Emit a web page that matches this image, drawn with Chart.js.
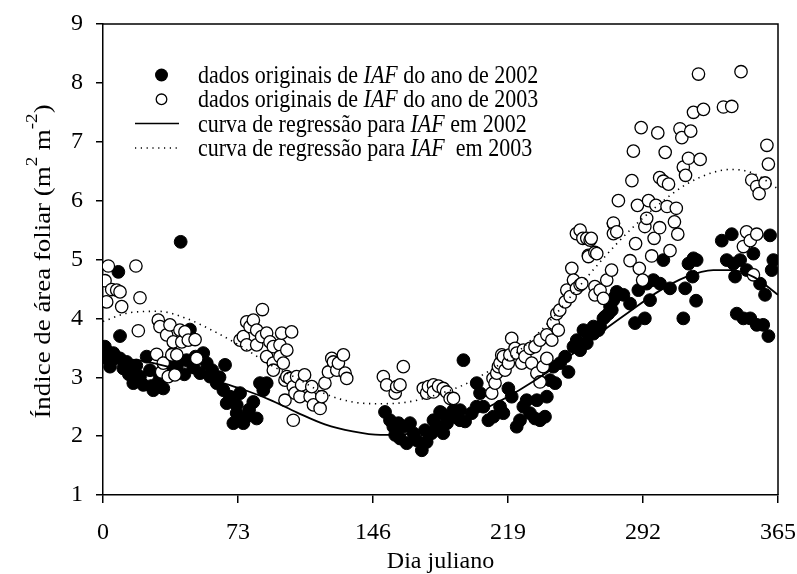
<!DOCTYPE html>
<html>
<head>
<meta charset="utf-8">
<script src="https://cdn.jsdelivr.net/npm/chart.js@4.4.1/dist/chart.umd.min.js"></script>
<style>
  html, body { margin: 0; padding: 0; background: #fff; }
  canvas { display: block; }
</style>
</head>
<body>
<canvas id="iafChart" width="797" height="574"></canvas>
<script>
// dados originais de IAF, 2002 (dia juliano, valor)
const days2002 = [
    1, 2, 3, 3.8, 4.5, 5.6, 7, 8.3, 9.2, 9.2, 11, 12.8, 14, 16.4, 16.4, 18, 19, 20, 21.8, 23.6,
    25.4, 26, 27.2, 29.9, 30.5, 32.6, 34.4, 36, 38, 40, 42, 44, 45.2, 47, 48.8, 50, 52.5, 54.2, 56.1, 57.9,
    59, 61.5, 63, 65.1, 66, 66.9, 68.7, 70.5, 72.3, 72.3, 74.1, 75.9, 77.7, 79, 81.3, 83.1, 84.9, 86.7, 88.5,
    152.5, 155.2, 157, 158, 159.8, 160.6, 162.4, 164.2, 166, 167.8, 169.6, 172.4, 174.1, 175, 177.7, 178.7,
    180.4, 182.3, 183.2, 184, 185.8, 186, 189.5, 189.5, 193, 193.1, 194.9, 195.8, 199.4, 202, 202.1, 203.9,
    205.7, 208.4, 211.1, 214.7, 216.5, 219.2, 221, 223.7, 225.5, 227.3, 229.1, 230.9, 233.6, 234.6, 236.3,
    239, 240, 241.7, 243.5, 244.5, 247.2, 249.9, 251.7, 254.4, 256.2, 258, 259.8, 261.6, 262.5, 265.2, 265.2,
    267.9, 268.8, 270.6, 271.5, 273.3, 274.2, 275.1, 276, 276.9, 277.8, 281.4, 285, 287.7, 289.5, 293, 294,
    295.8, 297.6, 301.2, 303, 306.6, 313.8, 314.8, 316.6, 318.8, 319.3, 320.7, 321, 334.6, 337.3, 340, 340.9,
    341.8, 342.7, 344.5, 346.3, 348.1, 350, 351.7, 353.5, 355.3, 357, 358, 359.8, 360.7, 361.6, 362.5
];
const iaf2002 = [
    3.52, 3.32, 3.42, 3.18, 3.28, 3.41, 3.35, 4.79, 3.70, 3.32, 3.15, 3.26, 3.05, 3.12, 2.90, 3.20, 2.95, 3.01, 2.87, 3.35,
    3.12, 2.85, 2.78, 2.92, 3.05, 2.81, 3.24, 3.10, 3.41, 3.20, 5.30, 3.05, 3.29, 3.81, 3.18, 3.35, 3.07, 3.41, 3.24, 3.01,
    3.12, 2.90, 3.00, 2.78, 3.21, 2.56, 2.67, 2.22, 2.53, 2.39, 2.73, 2.22, 2.33, 2.45, 2.58, 2.30, 2.90, 2.78, 2.90,
    2.41, 2.27, 2.16, 2.02, 2.22, 1.96, 2.16, 1.88, 2.22, 2.05, 1.93, 1.76, 2.10, 1.90, 2.05, 2.27,
    2.19, 2.41, 2.39, 2.05, 2.33, 2.22, 2.44, 2.33, 2.27, 2.44, 3.29, 2.25, 2.39, 2.50, 2.90, 2.73,
    2.50, 2.27, 2.33, 2.50, 2.39, 2.81, 2.67, 2.16, 2.27, 2.50, 2.61, 2.39, 2.30, 2.61, 2.27,
    2.33, 2.67, 2.95, 3.18, 2.90, 3.24, 3.35, 3.09, 3.52, 3.63, 3.46, 3.80, 3.58, 3.72, 3.86, 3.74,
    3.80, 3.86, 4.00, 4.03, 4.08, 4.20, 4.14, 4.31, 4.37, 4.45, 4.40, 4.25, 3.92, 4.48, 4.00, 4.59,
    4.31, 4.65, 4.59, 4.99, 4.51, 4.00, 4.51, 4.93, 4.71, 5.02, 4.30, 4.99, 5.32, 4.99, 5.43, 4.93,
    4.71, 4.08, 4.99, 4.00, 4.82, 4.00, 5.10, 3.89, 4.59, 3.89, 4.40, 3.70, 5.41, 4.82, 4.99
];

// dados originais de IAF, 2003
const days2003 = [
    1.1, 2, 2.9, 4.7, 7.4, 9.2, 10.1, 17.8, 19.1, 20, 29, 29.9, 30.8, 31.7, 32.6, 34.4, 35.3, 36.2, 37.2, 38,
    38.9, 39.9, 41.6, 42.6, 44.3, 46.1, 49.8, 50.7, 74.1, 75.9, 77.7, 77.7, 79.5, 81.3, 83.1, 83.1, 85.8, 86.2,
    88.5, 88.5, 90.3, 92.1, 92.1, 92.1, 95.7, 95.7, 96.6, 97.5, 98.4, 98.4, 99.4, 99.4, 101, 102, 102.9, 102.9,
    103.8, 104.7, 106.5, 107.4, 109, 112, 112.9, 113.8, 117.4, 118.3, 120, 121.9, 123.7, 124.6, 126.4, 127.3,
    130, 130.9, 131.8, 151.6, 153.4, 158, 158.8, 160.6, 162.4, 173.2, 175, 176, 178.7, 178.7, 181.4, 184,
    185.8, 187.7, 189.5, 210.2, 210.9, 212, 212.9, 213.8, 214.7, 215.6, 216.5, 217.4, 219.2, 220, 221, 222.8,
    223.7, 226.4, 227.3, 228.2, 231, 231.8, 233.6, 234.6, 236.3, 236.3, 238, 240, 240, 242.7, 243.5, 245.4,
    246.2, 247, 249.9, 250.8, 252.6, 253.5, 254.4, 256, 256, 258, 258, 258.9, 259.5, 261.6, 262.5, 262.5,
    263.4, 264, 266, 266, 266, 267, 268.8, 270.6, 272.4, 275, 276, 276, 276, 277.8, 278.7, 285, 286, 286.8,
    288, 289, 290, 291, 291.8, 293, 294, 295, 296.7, 298, 299, 300, 301, 301, 303, 304, 305, 305.8, 306.6,
    309, 310, 310.8, 312, 313, 313.8, 315, 316.6, 317.8, 319.3, 322, 322.9, 324.7, 335.5, 340, 345, 346.3,
    348, 350, 350.8, 351.7, 353.5, 353.5, 354.8, 358, 359, 359.8
];
const iaf2003 = [
    4.64, 4.28, 4.89, 4.49, 4.48, 4.45, 4.20, 4.89, 3.79, 4.35, 3.39, 3.97, 3.86, 3.09, 3.24, 3.72, 3.01, 3.89, 3.38, 3.60,
    3.04, 3.38, 3.80, 3.60, 3.77, 3.63, 3.64, 3.32, 3.63, 3.69, 3.94, 3.55, 3.86, 3.97, 3.80, 3.55, 3.69, 4.15,
    3.75, 3.35, 3.60, 3.52, 3.24, 3.12, 3.55, 3.35, 3.75, 3.24, 2.95, 2.61, 3.46, 3.01, 2.98, 3.77, 2.84, 2.27,
    2.73, 3.01, 2.67, 2.87, 3.04, 2.67, 2.84, 2.53, 2.47, 2.67, 2.90, 3.09, 3.32, 3.26, 3.12, 3.24,
    3.38, 3.07, 2.98, 3.01, 2.87, 2.73, 2.84, 2.87, 3.18, 2.81, 2.73, 2.84, 2.87, 2.75, 2.85, 2.81,
    2.75, 2.64, 2.64, 2.73, 2.98, 2.90, 3.07, 3.18, 3.24, 3.38, 3.35, 3.12, 3.24, 3.38, 3.66, 3.49,
    3.41, 3.24, 3.46, 3.35, 3.49, 3.24, 3.52, 3.07, 3.63, 2.92, 3.18, 3.72, 3.32, 3.63, 3.92, 4.08,
    3.80, 4.14, 4.28, 4.48, 4.37, 4.85, 4.65, 4.51, 5.44, 4.57, 5.50, 4.59, 5.36, 5.36, 5.07, 5.05,
    5.33, 5.36, 5.12, 4.54, 4.40, 5.10, 4.48, 4.34, 4.65, 4.82, 5.61, 5.62, 5.44, 5.47, 6.00, 4.98, 6.34, 6.84,
    5.27, 5.92, 4.85, 7.24, 4.65, 5.56, 5.70, 6.00, 5.06, 5.36, 5.92, 7.15, 6.39, 5.54, 6.33, 6.82, 5.90, 6.28, 5.15,
    5.64, 5.87, 5.43, 7.22, 7.07, 6.57, 6.43, 6.72, 7.18, 7.50, 8.15, 6.70, 7.55, 7.59, 7.60, 8.19, 5.22,
    5.47, 5.32, 6.35, 4.74, 6.24, 5.43, 6.12, 6.30, 6.94, 6.62
];

// curvas de regressão
const curveDays = [0, 15, 30, 45, 60, 75, 90, 105, 120, 135, 150, 165, 180, 195, 210, 225, 240, 255, 270, 285, 300, 315, 330, 340, 352, 365];
const curve2002 = [3.30, 3.30, 3.22, 3.10, 2.95, 2.80, 2.62, 2.40, 2.20, 2.08, 2.02, 2.04, 2.14, 2.30, 2.52, 2.78, 3.08, 3.42, 3.78, 4.12, 4.45, 4.70, 4.82, 4.82, 4.70, 4.40];
const curve2003 = [3.95, 4.10, 4.12, 4.00, 3.78, 3.52, 3.22, 2.98, 2.72, 2.58, 2.55, 2.58, 2.70, 2.87, 3.13, 3.45, 3.90, 4.45, 5.00, 5.50, 5.92, 6.27, 6.48, 6.53, 6.46, 6.20];

const xTicks = [0, 73, 146, 219, 292, 365];

const FONT = 'Liberation Serif, Times New Roman, serif';
const STRETCH = 1.12; // o texto do original é um pouco alongado na vertical

function toPoints(xs, ys) {
    return xs.map((x, i) => ({ x: x, y: ys[i] }));
}

// legenda dentro da área do gráfico
const legendRows = [
    { kind: 'filled', parts: ['dados originais de ', 'IAF', ' do ano de 2002'] },
    { kind: 'open', parts: ['dados originais de ', 'IAF', ' do ano de 2003'] },
    { kind: 'solid', parts: ['curva de regressão para ', 'IAF', ' em 2002'] },
    { kind: 'dotted', parts: ['curva de regressão para ', 'IAF', '  em 2003'] }
];

const framePlugin = {
    id: 'frameAndLegend',
    afterDraw(chart) {
        const ctx = chart.ctx;
        const a = chart.chartArea;
        ctx.save();

        // moldura superior e direita
        ctx.strokeStyle = '#000';
        ctx.lineWidth = 1.5;
        ctx.beginPath();
        ctx.moveTo(a.left, a.top);
        ctx.lineTo(a.right, a.top);
        ctx.lineTo(a.right, a.bottom);
        ctx.stroke();

        // legenda
        const x0 = a.left + 32;
        const mx = a.left + 58.5;
        const tx = a.left + 95;
        let y = a.top + 51;
        ctx.textBaseline = 'alphabetic';
        ctx.fillStyle = '#000';
        legendRows.forEach(row => {
            if (row.kind === 'filled') {
                ctx.beginPath();
                ctx.arc(mx, y, 6.5, 0, Math.PI * 2);
                ctx.fill();
            } else if (row.kind === 'open') {
                ctx.beginPath();
                ctx.arc(mx, y, 5.3, 0, Math.PI * 2);
                ctx.lineWidth = 1.3;
                ctx.stroke();
            } else {
                ctx.beginPath();
                ctx.lineWidth = 1.5;
                ctx.setLineDash(row.kind === 'dotted' ? [1.2, 4.6] : []);
                ctx.moveTo(x0, y);
                ctx.lineTo(x0 + 44, y);
                ctx.stroke();
                ctx.setLineDash([]);
            }
            let cx = tx;
            row.parts.forEach((p, i) => {
                ctx.font = (i === 1 ? 'italic ' : '') + '22px ' + FONT;
                ctx.save();
                ctx.translate(cx, y + 8);
                ctx.scale(1, STRETCH);
                ctx.fillText(p, 0, 0);
                ctx.restore();
                cx += ctx.measureText(p).width;
            });
            y += 24.3;
        });

        // título do eixo y com expoentes
        const parts = [
            { t: 'Índice de área foliar (m', sup: false },
            { t: '2', sup: true },
            { t: ' m', sup: false },
            { t: '-2', sup: true },
            { t: ')', sup: false }
        ];
        let total = 0;
        parts.forEach(p => {
            ctx.font = (p.sup ? '17px ' : '24px ') + FONT;
            p.w = ctx.measureText(p.t).width;
            total += p.w;
        });
        ctx.translate(50, (a.top + a.bottom) / 2 + 2);
        ctx.rotate(-Math.PI / 2);
        ctx.scale(STRETCH, 1);
        ctx.textBaseline = 'alphabetic';
        let px = -total / 2;
        parts.forEach(p => {
            ctx.font = (p.sup ? '17px ' : '24px ') + FONT;
            ctx.fillText(p.t, px, p.sup ? -13 : 0);
            px += p.w;
        });
        ctx.restore();
    }
};

const ctx = document.getElementById('iafChart');

new Chart(ctx, {
    type: 'scatter',
    data: {
        datasets: [
            {
                label: 'curva de regressão para IAF em 2003',
                data: toPoints(curveDays, curve2003),
                showLine: true,
                borderColor: '#000',
                borderWidth: 1.6,
                borderDash: [1.3, 4.6],
                pointRadius: 0,
                tension: 0.4,
                cubicInterpolationMode: 'monotone',
                order: 0
            },
            {
                label: 'curva de regressão para IAF em 2002',
                data: toPoints(curveDays, curve2002),
                showLine: true,
                borderColor: '#000',
                borderWidth: 1.8,
                pointRadius: 0,
                tension: 0.4,
                cubicInterpolationMode: 'monotone',
                order: 1
            },
            {
                label: 'dados originais de IAF do ano de 2003',
                data: toPoints(days2003, iaf2003),
                backgroundColor: '#fff',
                borderColor: '#000',
                borderWidth: 1.3,
                pointRadius: 6.2,
                order: 2
            },
            {
                label: 'dados originais de IAF do ano de 2002',
                data: toPoints(days2002, iaf2002),
                backgroundColor: '#000',
                borderColor: '#000',
                borderWidth: 1,
                pointRadius: 6.4,
                order: 3
            }
        ]
    },
    options: {
        responsive: false,
        animation: false,
        events: [],
        layout: {
            padding: { top: 24, right: 19, left: 0, bottom: 0 }
        },
        plugins: {
            legend: { display: false },
            tooltip: { enabled: false }
        },
        scales: {
            x: {
                type: 'linear',
                min: 0,
                max: 365,
                afterBuildTicks: scale => {
                    scale.ticks = xTicks.map(v => ({ value: v }));
                },
                afterFit: scale => {
                    scale.height = 79;
                    scale.paddingLeft = 0;
                    scale.paddingRight = 0;
                },
                ticks: {
                    color: '#000',
                    font: { family: FONT, size: 24 },
                    padding: 15,
                    maxRotation: 0
                },
                grid: {
                    drawOnChartArea: false,
                    color: '#000',
                    lineWidth: 1.5,
                    tickLength: 8
                },
                border: { color: '#000', width: 1.5 },
                title: {
                    display: true,
                    text: 'Dia juliano',
                    color: '#000',
                    font: { family: FONT, size: 24 },
                    padding: { top: 0, bottom: -2 }
                }
            },
            y: {
                min: 1,
                max: 9,
                afterFit: scale => {
                    scale.width = 103;
                    scale.paddingTop = 0;
                    scale.paddingBottom = 0;
                },
                ticks: {
                    stepSize: 1,
                    color: '#000',
                    font: { family: FONT, size: 24 },
                    padding: 13
                },
                grid: {
                    drawOnChartArea: false,
                    color: '#000',
                    lineWidth: 1.5,
                    tickLength: 7
                },
                border: { color: '#000', width: 1.5 }
            }
        }
    },
    plugins: [framePlugin]
});
</script>
</body>
</html>
